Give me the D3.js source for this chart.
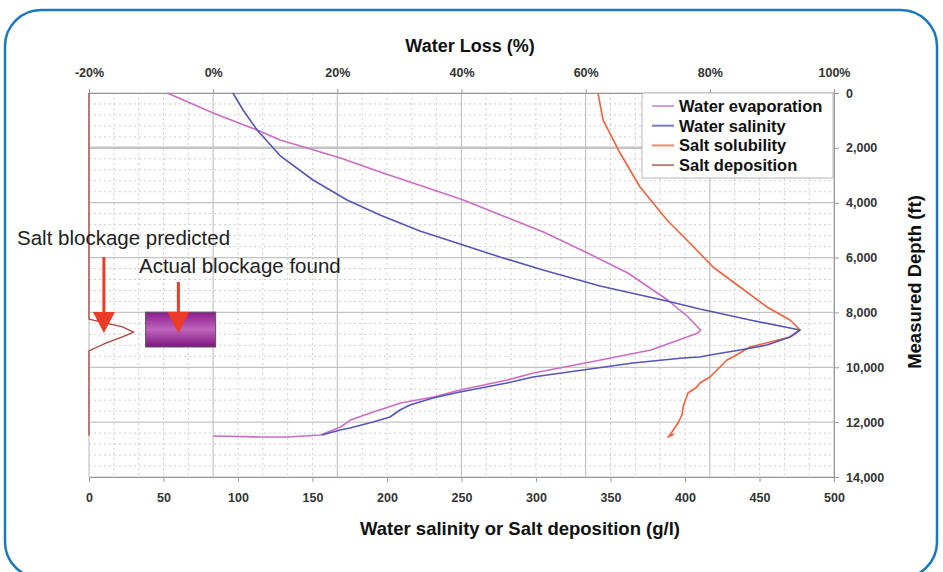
<!DOCTYPE html>
<html>
<head>
<meta charset="utf-8">
<script src="https://cdn.jsdelivr.net/npm/d3@7"></script>
<style>
  body { margin: 0; background: #fff; }
  svg { display: block; font-family: "Liberation Sans", Arial, sans-serif; }
</style>
</head>
<body>
<div id="chart"></div>
<script>
// water evaporation: [water loss %, depth ft]
const evaporation = [
  [-7.4, 0], [0, 729], [7.1, 1349], [10.8, 1714], [20.5, 2370], [26.9, 2880],
  [40.3, 3901], [46.3, 4448], [53.2, 5068], [60.3, 5834], [66.8, 6563],
  [73.2, 7547], [76.5, 8167], [78.5, 8641], [78.1, 8750], [70.5, 9370],
  [62.4, 9735], [51.6, 10209], [47.4, 10464], [39.8, 10829],
  [35.5, 11084], [30.2, 11303], [25.8, 11631], [22.1, 11923], [20.5, 12178],
  [17.3, 12470], [12, 12540], [7.6, 12540], [0, 12506]
];
// water salinity: [g/l, depth ft]
const salinity = [
  [96.6, 0], [103.4, 620], [112.8, 1349], [128.2, 2280], [150.3, 3172],
  [173.2, 3901], [195.3, 4450], [222.1, 5030], [249, 5505], [275.8, 5980],
  [304.7, 6453], [343, 7037], [387.9, 7584], [410, 7876], [443.6, 8277],
  [477.2, 8641], [470.5, 8896], [455, 9188], [437, 9370], [416.8, 9553],
  [410, 9626], [398.7, 9662], [365.1, 9844], [331.5, 10099], [298, 10355],
  [280.5, 10574], [249, 10902], [230.9, 11121], [215.4, 11376], [208.7, 11558],
  [202, 11813], [190.6, 11996], [175.2, 12215], [168.5, 12288], [156.4, 12470]
];
// salt solubility: [g/l, depth ft]
const solubility = [
  [341.6, 0], [345, 984], [356.4, 2188], [369.8, 3427], [387.9, 4630],
  [401.3, 5360], [418.8, 6344], [436.9, 7073], [455, 7802], [470.5, 8277],
  [477.2, 8641], [470.5, 8896], [443.6, 9261], [432.2, 9626], [428.2, 9735],
  [416.8, 10355], [410, 10574], [408, 10719], [402, 10938], [398.7, 11449],
  [398, 11740], [395.3, 12032], [389.9, 12470], [388.6, 12543], [392.6, 12433]
];
// salt deposition: [g/l, depth ft]
const deposition = [
  [0, 0], [0, 8240], [12, 8400], [22, 8520], [30, 8720], [22, 8900],
  [10, 9150], [0, 9400], [0, 12500]
];

const seriesNames = ["Water evaporation", "Water salinity", "Salt solubility", "Salt deposition"];
const seriesColors = ["#cc6cc4", "#5656b6", "#f2603c", "#a8463e"];
const legendColors = ["#dc9ad8", "#7a7ac8", "#f48a6a", "#b88078"];

const lossTicks = [-20, 0, 20, 40, 60, 80, 100];
const gplTicks = [0, 50, 100, 150, 200, 250, 300, 350, 400, 450, 500];
const depthTicks = [0, 2000, 4000, 6000, 8000, 10000, 12000, 14000];

// blockage: found zone [g/l from, g/l to, depth from, depth to]; arrows [g/l, depth from, depth to]
const blockageFound = [38, 85, 7990, 9260];
const arrowPredicted = [10, 5980, 8750];
const arrowFound = [60, 6890, 8750];

const W = 943, H = 572;
const pLeft = 89, pRight = 834, pTop = 93, pBottom = 477;

const xG = d3.scaleLinear().domain([0, 500]).range([pLeft, pRight]);
const xP = d3.scaleLinear().domain([-20, 100]).range([pLeft, pRight]);
const y = d3.scaleLinear().domain([0, 14000]).range([pTop, pBottom]);

const svg = d3.select("#chart").append("svg").attr("width", W).attr("height", H);

const defs = svg.append("defs");
const grad = defs.append("linearGradient").attr("id", "blk").attr("x1", 0).attr("y1", 0).attr("x2", 0).attr("y2", 1);
grad.append("stop").attr("offset", "0%").attr("stop-color", "#8a1c8c");
grad.append("stop").attr("offset", "50%").attr("stop-color", "#c064be");
grad.append("stop").attr("offset", "100%").attr("stop-color", "#7c147e");

// frame
svg.append("rect")
  .attr("x", 5).attr("y", 10).attr("width", 932).attr("height", 568)
  .attr("rx", 36).attr("ry", 36)
  .attr("fill", "none").attr("stroke", "#1a78bf").attr("stroke-width", 2.5);

// minor grid
const g = svg.append("g");
d3.range(-20, 100.1, 4).forEach(v => {
  if (v % 20 === 0) return;
  g.append("line").attr("x1", xP(v)).attr("x2", xP(v)).attr("y1", pTop).attr("y2", pBottom)
    .attr("stroke", "#cfcfcf").attr("stroke-dasharray", "2,3").attr("stroke-width", 1);
});
d3.range(0, 14000, 400).forEach(v => {
  if (v % 2000 === 0) return;
  g.append("line").attr("x1", pLeft).attr("x2", pRight).attr("y1", y(v)).attr("y2", y(v))
    .attr("stroke", "#cfcfcf").attr("stroke-dasharray", "2,3").attr("stroke-width", 1);
});
// major grid
lossTicks.forEach(v => {
  g.append("line").attr("x1", xP(v)).attr("x2", xP(v)).attr("y1", pTop).attr("y2", pBottom)
    .attr("stroke", "#c4c4c4").attr("stroke-width", 1.2);
});
depthTicks.forEach(v => {
  g.append("line").attr("x1", pLeft).attr("x2", pRight).attr("y1", y(v)).attr("y2", y(v))
    .attr("stroke", "#c4c4c4").attr("stroke-width", v === 2000 ? 2.5 : 1.2);
});

// axes
const axStyle = sel => {
  sel.select(".domain").attr("stroke", "#999");
  sel.selectAll(".tick line").attr("stroke", "#999");
  sel.selectAll("text").attr("fill", "#333").attr("font-size", "12.5px").attr("font-weight", "bold")
    .attr("font-family", "'Liberation Sans', Arial, sans-serif");
};
svg.append("g").attr("transform", `translate(0,${pTop})`)
  .call(d3.axisTop(xP).tickValues(lossTicks).tickFormat(d => d + "%").tickSize(4).tickPadding(12))
  .call(axStyle);
svg.append("g").attr("transform", `translate(0,${pBottom})`)
  .call(d3.axisBottom(xG).tickValues(gplTicks).tickFormat(d3.format("d")).tickSize(5).tickPadding(11))
  .call(axStyle);
svg.append("g").attr("transform", `translate(${pRight},0)`)
  .call(d3.axisRight(y).tickValues(depthTicks).tickFormat(d3.format(",")).tickSize(5).tickPadding(7))
  .call(axStyle);

// titles
svg.append("text").attr("x", 470).attr("y", 52).attr("text-anchor", "middle")
  .attr("font-size", "18px").attr("font-weight", "bold").attr("fill", "#111").text("Water Loss (%)");
svg.append("text").attr("x", 520).attr("y", 535).attr("text-anchor", "middle")
  .attr("font-size", "18.5px").attr("font-weight", "bold").attr("fill", "#111")
  .text("Water salinity or Salt deposition (g/l)");
svg.append("text").attr("transform", "translate(921,282) rotate(-90)").attr("text-anchor", "middle")
  .attr("font-size", "18.5px").attr("font-weight", "bold").attr("fill", "#111").text("Measured Depth (ft)");

// curves
const lineP = d3.line().x(d => xP(d[0])).y(d => y(d[1]));
const lineG = d3.line().x(d => xG(d[0])).y(d => y(d[1]));
const curves = [
  [deposition, lineG, seriesColors[3], 1.3],
  [solubility, lineG, seriesColors[2], 1.6],
  [evaporation, lineP, seriesColors[0], 1.6],
  [salinity, lineG, seriesColors[1], 1.6]
];
curves.forEach(([data, gen, col, sw]) => {
  svg.append("path").attr("d", gen(data)).attr("fill", "none")
    .attr("stroke", col).attr("stroke-width", sw).attr("stroke-linejoin", "round");
});

// legend
const lg = svg.append("g");
lg.append("rect").attr("x", 642).attr("y", 93).attr("width", 191).attr("height", 85)
  .attr("fill", "#fff").attr("stroke", "#b5b5b5").attr("stroke-width", 1);
seriesNames.forEach((n, i) => {
  const ly = 106 + i * 19.7;
  lg.append("line").attr("x1", 652).attr("x2", 674).attr("y1", ly).attr("y2", ly)
    .attr("stroke", legendColors[i]).attr("stroke-width", 2);
  lg.append("text").attr("x", 679).attr("y", ly + 6).attr("font-size", "16.5px").attr("font-weight", "bold")
    .attr("fill", "#111").text(n);
});

// blockage annotations
svg.append("rect")
  .attr("x", xG(blockageFound[0])).attr("y", y(blockageFound[2]))
  .attr("width", xG(blockageFound[1]) - xG(blockageFound[0]))
  .attr("height", y(blockageFound[3]) - y(blockageFound[2]))
  .attr("fill", "url(#blk)").attr("stroke", "#555").attr("stroke-width", 1);

function arrow(a) {
  const ax = xG(a[0]), y0 = y(a[1]), y1 = y(a[2]);
  svg.append("line").attr("x1", ax).attr("x2", ax).attr("y1", y0).attr("y2", y1 - 18)
    .attr("stroke", "#ec3b26").attr("stroke-width", 3);
  svg.append("path").attr("d", `M${ax - 11},${y1 - 21}L${ax + 11},${y1 - 21}L${ax},${y1}Z`)
    .attr("fill", "#ec3b26");
}
arrow(arrowPredicted);
arrow(arrowFound);

svg.append("text").attr("x", 17).attr("y", 245).attr("font-size", "20.5px").attr("fill", "#222")
  .text("Salt blockage predicted");
svg.append("text").attr("x", 139).attr("y", 273).attr("font-size", "20.5px").attr("fill", "#222")
  .text("Actual blockage found");
</script>
</body>
</html>
